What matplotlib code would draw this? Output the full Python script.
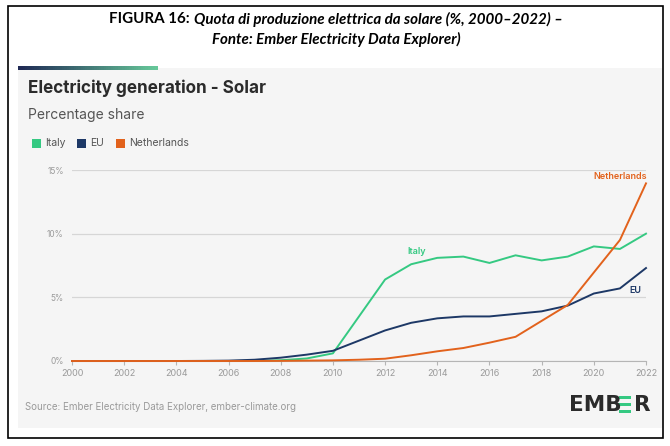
import numpy as np
import matplotlib
matplotlib.use("Agg")
import matplotlib.pyplot as plt
from matplotlib.patches import Rectangle

# --- dati (lettura approssimata dal grafico) ---
years = list(range(2000, 2023))
italy = [0, 0, 0, 0, 0, 0, 0, 0.01, 0.06, 0.2, 0.6, 3.5, 6.4, 7.6, 8.1, 8.2, 7.7,
         8.3, 7.9, 8.2, 9.0, 8.8, 10.0]
eu = [0, 0, 0, 0, 0, 0.01, 0.03, 0.1, 0.26, 0.5, 0.8, 1.6, 2.4, 3.0, 3.35, 3.5,
      3.5, 3.7, 3.9, 4.35, 5.3, 5.7, 7.3]
netherlands = [0, 0, 0, 0, 0, 0, 0, 0, 0.01, 0.03, 0.05, 0.1, 0.18, 0.45, 0.76,
               1.02, 1.44, 1.9, 3.15, 4.4, 6.95, 9.5, 13.95]
series_names = ["Italy", "EU", "Netherlands"]
colors = ["#35c982", "#1d3866", "#e2621c"]
y_ticks = [0, 5, 10, 15]
x_ticks = list(range(2000, 2023, 2))

W, H = 670, 446
fig = plt.figure(figsize=(W / 100, H / 100), dpi=100)
fig.patch.set_facecolor("white")

def fx(px):
    return px / W

def fy(py):
    return 1 - py / H

# cornice esterna
fig.patches.append(Rectangle((fx(8), fy(438)), fx(663) - fx(8), fy(6) - fy(438),
                             transform=fig.transFigure, fill=False,
                             edgecolor="black", linewidth=1.2, zorder=-2))

# pannello grigio
fig.patches.append(Rectangle((fx(18), fy(428)), fx(662) - fx(18), fy(68) - fy(428),
                             transform=fig.transFigure, facecolor="#f5f5f5",
                             edgecolor="none", zorder=-2))
# barra sfumata in alto
grad = np.linspace(0, 1, 60)
c0 = np.array([0.12, 0.16, 0.33])
c1 = np.array([0.40, 0.78, 0.60])
for i, g in enumerate(grad):
    x0 = 18 + i * (157 - 18) / len(grad)
    fig.patches.append(Rectangle((fx(x0), fy(70)), fx((157 - 18) / len(grad) + 0.5), fy(66) - fy(70),
                                 transform=fig.transFigure,
                                 facecolor=c0 * (1 - g) + c1 * g, edgecolor="none", zorder=-1))

# titolo del documento (in due parti con stile diverso)
fig.canvas.draw()
r = fig.canvas.get_renderer()
t1 = fig.text(0, fy(19), "FIGURA 16: ", fontsize=10.9, fontweight="bold",
              family="Lato", va="center", ha="left")
t2 = fig.text(0, fy(19), "Quota di produzione elettrica da solare (%, 2000\u20132022) \u2013",
              fontsize=10.9, fontweight="bold", style="italic", family="Lato",
              va="center", ha="left")
w1 = t1.get_window_extent(r).width
w2 = t2.get_window_extent(r).width
start = (W * 0.5 + 1 - (w1 + w2) / 2)
t1.set_x(fx(start))
t2.set_x(fx(start + w1))
fig.text(fx(W * 0.5 + 1), fy(39), "Fonte: Ember Electricity Data Explorer)", fontsize=10.9,
         fontweight="bold", style="italic", family="Lato", va="center", ha="center")

# titoli del grafico
fig.text(fx(28), fy(88), "Electricity generation - Solar", fontsize=12.3,
         fontweight="bold", family="Inter", color="#2b2b2b", va="center")
fig.text(fx(28), fy(115), "Percentage share", fontsize=10, family="Inter",
         color="#555555", va="center")

# legenda
leg_x = [32, 77, 116]
for name, c, lx in zip(series_names, colors, leg_x):
    fig.patches.append(Rectangle((fx(lx), fy(148)), fx(9), fy(139) - fy(148),
                                 transform=fig.transFigure, facecolor=c, edgecolor="none"))
    fig.text(fx(lx + 13), fy(143.5), name, fontsize=7.5, family="Inter",
             color="#555555", va="center")

# grafico
ax = fig.add_axes([fx(72), fy(361), fx(646) - fx(72), fy(170) - fy(361)], zorder=2)
ax.set_facecolor("none")
for name, vals, c in zip(series_names, [italy, eu, netherlands], colors):
    ax.plot(years, vals, color=c, linewidth=1.4, clip_on=False, zorder=3)

ax.set_xlim(2000, 2022)
ax.set_ylim(0, 15)
ax.set_yticks(y_ticks)
ax.set_yticklabels([f"{v}%" for v in y_ticks])
ax.set_xticks(x_ticks)
ax.set_xticklabels([str(v) for v in x_ticks])
ax.grid(axis="y", color="#d6d6d6", linewidth=0.9)
ax.set_axisbelow(True)
for s in ["top", "right", "left"]:
    ax.spines[s].set_visible(False)
ax.spines["bottom"].set_color("#b5b5b5")
ax.tick_params(axis="y", length=0, pad=6, labelsize=6, labelcolor="#9a9a9a")
ax.tick_params(axis="x", length=3, color="#b5b5b5", pad=3, labelsize=6.5, labelcolor="#9a9a9a")
for lab in ax.get_xticklabels() + ax.get_yticklabels():
    lab.set_family("Inter")

# etichette delle serie
ax.text(2013.2, 8.6, "Italy", color=colors[0], fontsize=6.5, fontweight="semibold",
        family="Inter", ha="center", va="center")
ax.text(2021.6, 5.55, "EU", color=colors[1], fontsize=6.5, fontweight="semibold",
        family="Inter", ha="center", va="center")
ax.text(2021.0, 14.5, "Netherlands", color=colors[2], fontsize=6.5, fontweight="semibold",
        family="Inter", ha="center", va="center")

# fonte e logo
fig.text(fx(25), fy(407), "Source: Ember Electricity Data Explorer, ember-climate.org",
         fontsize=7, family="Inter", color="#9a9a9a", va="center")
fig.text(fx(569), fy(405), "EMB", fontsize=15.5, fontweight="bold", family="DejaVu Sans",
         color="#2b2b2b", va="center")
for k in range(3):
    yy = 396 + k * 6.8
    fig.patches.append(Rectangle((fx(619), fy(yy + 3.4)), fx(12), fy(yy) - fy(yy + 3.4),
                                 transform=fig.transFigure, facecolor="#35c982",
                                 edgecolor="none"))
fig.text(fx(634), fy(405), "R", fontsize=15.5, fontweight="bold", family="DejaVu Sans",
         color="#2b2b2b", va="center")

fig.savefig("out.png", dpi=100)
